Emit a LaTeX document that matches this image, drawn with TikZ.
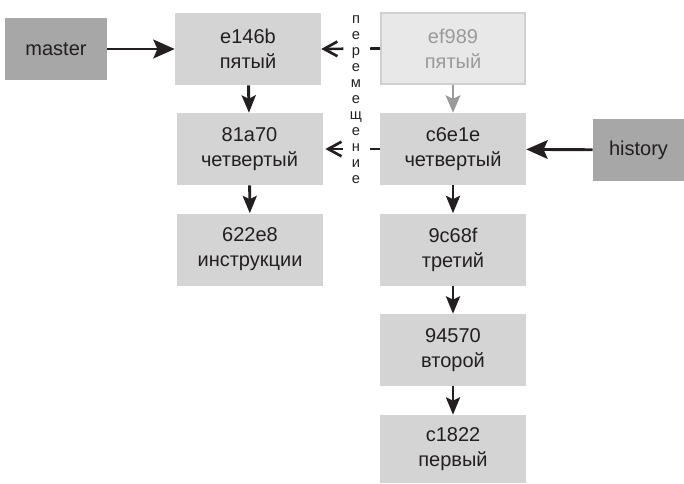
\documentclass[tikz,border=0pt]{standalone}
\usepackage{fontspec}
\setmainfont{Liberation Sans}
\usetikzlibrary{arrows.meta}
\definecolor{txt}{HTML}{231F20}
\definecolor{boxfill}{HTML}{D4D4D4}
\definecolor{reffill}{HTML}{A7A7A8}
\definecolor{ghostfill}{HTML}{E8E8E8}
\definecolor{ghostdraw}{HTML}{D0D0D0}
\definecolor{ghosttext}{HTML}{9A9A9A}
\begin{document}
\begin{tikzpicture}[x=0.75pt,y=-0.75pt,
  commit/.style={rectangle,fill=boxfill,minimum width=109.5pt,minimum height=54pt,inner sep=0pt,align=center,text=txt,font=\fontsize{15}{18.75}\selectfont},
  ghost/.style={commit,fill=ghostfill,draw=ghostdraw,line width=1.5pt,text=ghosttext},
  refbox/.style={rectangle,fill=reffill,minimum height=46.5pt,inner sep=0pt,text=txt,font=\fontsize{15}{18}\selectfont},
  solidarrow/.style={draw=txt,line width=2.2pt,-{Stealth[length=16pt,width=14pt,inset=3pt]}},
  downarrow/.style={draw=txt,line width=2.2pt,-{Stealth[length=13pt,width=10.5pt,inset=2.5pt]}},
  ghostarrow/.style={draw=ghosttext,line width=2pt,-{Stealth[length=13pt,width=11pt,inset=2.5pt]}},
  movearrow/.style={draw=txt,line width=2pt,dash pattern=on 7.5pt off 20pt on 40pt,-{Straight Barb[length=10pt,width=11pt]}}
]
\useasboundingbox (0,0) rectangle (684,483);
% reference boxes
\node[refbox,minimum width=76.5pt] (master) at (56,49) {master};
\node[refbox,minimum width=68.5pt] (history) at (638.5,150) {history};
% left column
\node[commit] (e146b) at (248,49) {e146b\\пятый};
\node[commit] (c81a70) at (249.5,149) {81a70\\четвертый};
\node[commit] (c622e8) at (250,249.5) {622e8\\инструкции};
% right column
\node[ghost,minimum width=108pt,minimum height=53pt] (ef989) at (453,48.5) {ef989\\пятый};
\node[commit] (c6e1e) at (453,149) {c6e1e\\четвертый};
\node[commit] (c9c68f) at (453,249.5) {9c68f\\третий};
\node[commit] (c94570) at (453,350) {94570\\второй};
\node[commit,minimum height=51pt] (c1822) at (453,449) {c1822\\первый};
% move label
\node[text=txt,align=center,font=\fontsize{11}{12}\selectfont,inner sep=0pt] (move) at (356,100)
  {п\\е\\р\\е\\м\\е\\щ\\е\\н\\и\\е};
% connectors
\draw[solidarrow] (master) -- (e146b);
\draw[solidarrow] (history) -- (c6e1e);
\draw[downarrow] (e146b) -- (c81a70);
\draw[downarrow] (c81a70) -- (c622e8);
\draw[ghostarrow] (ef989) -- (c6e1e);
\draw[downarrow] (c6e1e) -- (c9c68f);
\draw[downarrow] (c9c68f) -- (c94570);
\draw[downarrow] (c94570) -- (c1822);
\draw[movearrow] (ef989.west) -- (e146b.east);
\draw[movearrow,shorten >=2pt] (c6e1e.west) -- (c81a70.east);
\end{tikzpicture}
\end{document}
